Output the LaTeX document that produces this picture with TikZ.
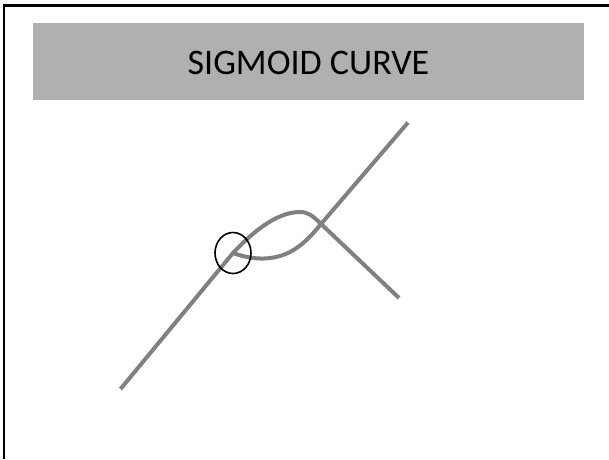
\documentclass[tikz,border=0pt]{standalone}
\usepackage{fontspec}
\setmainfont{Carlito}
\begin{document}
\begin{tikzpicture}[x=1pt,y=-1pt,
  curve/.style={draw=black!50, line width=4pt},
  banner/.style={fill=black!31, draw=none},
  frameline/.style={draw=black, line width=2.5pt}]
\useasboundingbox (0,0) rectangle (609,459);
\fill[white] (0,0) rectangle (609,459);
% frame (only top and left edges visible)
\coordinate (tl) at (4,5.5);
\coordinate (tr) at (609,5.5);
\coordinate (bl) at (4,459);
\draw[frameline] (tr) -- (tl) -- (bl);
% banner
\path[banner] (33,23) rectangle (584,100);
\node[anchor=base, font=\fontsize{36}{40}\selectfont, inner sep=0pt] (title) at (308.5,74) {SIGMOID CURVE};
% curves
\coordinate (a0) at (120.5,389);
\coordinate (c) at (233,253);
\coordinate (peak) at (300,212);
\coordinate (bend) at (319,222);
\coordinate (a1) at (399,298);
\coordinate (bmid) at (290,252);
\coordinate (cross) at (321,224);
\coordinate (b1) at (408,122.5);
\draw[curve] (a0) -- (c) .. controls (250,235) and (275,212) .. (peak)
  .. controls (308,212) and (313,216) .. (bend) -- (a1);
\draw[curve] (c) .. controls (250,259) and (270,262) .. (bmid)
  .. controls (303,245) and (312,235) .. (cross) -- (b1);
% circle
\draw[black, line width=1.6pt] (c) ellipse [x radius=18, y radius=20.5];
\end{tikzpicture}
\end{document}
